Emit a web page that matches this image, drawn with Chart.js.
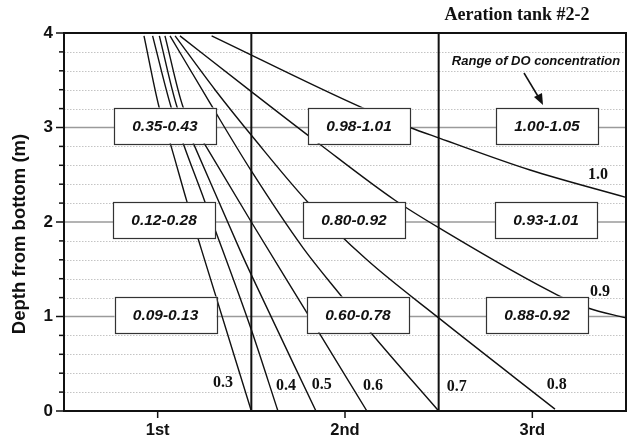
<!DOCTYPE html>
<html><head><meta charset="utf-8">
<script src="https://cdn.jsdelivr.net/npm/chart.js@4/dist/chart.umd.min.js"></script>
<style>html,body{margin:0;padding:0;background:#fff}#wrap{width:632px;height:443px;position:relative}</style>
</head><body><div id="wrap"><canvas id="c"></canvas></div>
<script>
// ---------- data ----------
const categories = ['1st', '2nd', '3rd'];
const depthTicks = [0, 1, 2, 3, 4];
const isoLevels = ['0.3', '0.4', '0.5', '0.6', '0.7', '0.8', '0.9', '1.0'];

const x03 = [0.927, 1.007, 1.066, 1.157, 1.235, 1.5];
const y03 = [3.97, 3.22, 2.84, 2.21, 1.70, 0];
const x04 = [0.973, 1.071, 1.253, 1.5, 1.642];
const y04 = [3.97, 3.22, 2.21, 0.86, 0];
const x05 = [1.009, 1.103, 1.189, 1.44, 1.5, 1.845];
const y05 = [3.97, 3.22, 2.84, 1.70, 1.44, 0];
const x06 = [1.039, 1.135, 1.247, 1.5, 1.797, 2.117];
const y06 = [3.97, 3.22, 2.838, 2.0, 1.038, 0];
const x07 = [1.066, 1.279, 1.5, 1.776, 1.984, 2.144, 2.5];
const y07 = [3.97, 3.26, 2.54, 1.726, 1.207, 0.815, 0];
const x08 = [1.093, 1.306, 1.52, 1.802, 2.117, 2.5, 3.121];
const y08 = [3.97, 3.40, 2.87, 2.21, 1.60, 0.985, 0.02];
const x09 = [1.119, 1.5, 1.867, 2.267, 2.5, 3.132, 3.297, 3.5];
const y09 = [3.97, 3.38, 2.82, 2.23, 1.94, 1.23, 1.09, 0.985];
const x10 = [1.288, 2.091, 2.347, 2.5, 2.988, 3.5];
const y10 = [3.97, 3.21, 3.0, 2.89, 2.55, 2.26];

const rangeDepths = [1, 2, 3];
const range1st = ['0.09-0.13', '0.12-0.28', '0.35-0.43'];
const range2nd = ['0.60-0.78', '0.80-0.92', '0.98-1.01'];
const range3rd = ['0.88-0.92', '0.93-1.01', '1.00-1.05'];

const chartTitle = 'Aeration tank #2-2';
const noteText = 'Range of DO concentration';
const yTitle = 'Depth from bottom (m)';

// ---------- layout (positions of annotations, not data) ----------
const boxCenterX = [[1.042, 1.034, 1.039], [2.069, 2.048, 2.075], [3.025, 3.073, 3.078]];
const isoLabelPos = [[1.349, 0.296], [1.685, 0.265], [1.876, 0.275], [2.149, 0.265],
                     [2.596, 0.257], [3.13, 0.275], [3.361, 1.263], [3.351, 2.499]];

const xs = [x03, x04, x05, x06, x07, x08, x09, x10];
const ys = [y03, y04, y05, y06, y07, y08, y09, y10];
const datasets = isoLevels.map((lv, i) => ({
  label: lv,
  data: xs[i].map((x, j) => ({ x: x, y: ys[i][j] })),
  showLine: true,
  borderColor: '#111',
  borderWidth: 1.4,
  pointRadius: 0,
  cubicInterpolationMode: 'monotone',
  fill: false
}));

const overlay = {
  id: 'overlay',
  beforeDatasetsDraw(chart) {
    const { ctx, chartArea: a, scales: { x, y } } = chart;
    ctx.save();
    ctx.strokeStyle = '#c4c4c4';
    ctx.lineWidth = 1;
    ctx.setLineDash([1.5, 1.5]);
    for (let k = 1; k < 20; k++) {
      if (k % 5 === 0) continue;
      const py = Math.round(y.getPixelForValue(k * 0.2)) + 0.5;
      ctx.beginPath(); ctx.moveTo(a.left, py); ctx.lineTo(a.right, py); ctx.stroke();
    }
    ctx.setLineDash([]);
    ctx.strokeStyle = '#9a9a9a';
    ctx.lineWidth = 1.5;
    rangeDepths.forEach(d => {
      const py = y.getPixelForValue(d);
      ctx.beginPath(); ctx.moveTo(a.left, py); ctx.lineTo(a.right, py); ctx.stroke();
    });
    ctx.restore();
  },
  afterDatasetsDraw(chart) {
    const { ctx, chartArea: a, scales: { x, y } } = chart;
    ctx.save();
    ctx.strokeStyle = '#111';
    ctx.lineWidth = 2;
    [1.5, 2.5].forEach(v => {
      const px = x.getPixelForValue(v);
      ctx.beginPath(); ctx.moveTo(px, a.top); ctx.lineTo(px, a.bottom); ctx.stroke();
    });
    const cols = [range1st, range2nd, range3rd];
    ctx.font = 'italic bold 15.5px "Liberation Sans", Arial, sans-serif';
    ctx.textAlign = 'center';
    ctx.textBaseline = 'middle';
    cols.forEach((col, ci) => {
      col.forEach((txt, ri) => {
        const cx = x.getPixelForValue(boxCenterX[ci][ri]);
        const cy = y.getPixelForValue(rangeDepths[ri]) - 2;
        const w = 102, h = 36;
        ctx.fillStyle = '#fff';
        ctx.fillRect(cx - w / 2, cy - h / 2, w, h);
        ctx.strokeStyle = '#333';
        ctx.lineWidth = 1.2;
        ctx.strokeRect(Math.round(cx - w / 2) + 0.5, Math.round(cy - h / 2) + 0.5, w, h);
        ctx.fillStyle = '#111';
        ctx.fillText(txt, cx, cy + 1);
      });
    });
    ctx.font = 'bold 16px "Liberation Serif", "Times New Roman", serif';
    isoLevels.forEach((lv, i) => {
      ctx.fillText(lv, x.getPixelForValue(isoLabelPos[i][0]), y.getPixelForValue(isoLabelPos[i][1]));
    });
    ctx.strokeStyle = '#111';
    ctx.lineWidth = 2;
    ctx.strokeRect(a.left, a.top, a.right - a.left, a.bottom - a.top);
    ctx.lineWidth = 1.5;
    for (let k = 0; k <= 20; k++) {
      const py = y.getPixelForValue(k * 0.2);
      const len = k % 5 === 0 ? 8 : 5;
      ctx.beginPath(); ctx.moveTo(a.left - len, py); ctx.lineTo(a.left, py); ctx.stroke();
    }
    categories.forEach((c, i) => {
      const px = x.getPixelForValue(i + 1);
      ctx.beginPath(); ctx.moveTo(px, a.bottom); ctx.lineTo(px, a.bottom + 7); ctx.stroke();
    });
    ctx.fillStyle = '#111';
    ctx.font = 'bold 18px "Liberation Serif", "Times New Roman", serif';
    ctx.fillText(chartTitle, 517, 15);
    ctx.font = 'italic bold 13px "Liberation Sans", Arial, sans-serif';
    ctx.fillText(noteText, 536, 61);
    ctx.lineWidth = 1.5;
    ctx.beginPath(); ctx.moveTo(524, 73); ctx.lineTo(539, 98); ctx.stroke();
    ctx.beginPath();
    ctx.moveTo(543, 105); ctx.lineTo(534, 97); ctx.lineTo(542, 93); ctx.closePath(); ctx.fill();
    // y axis title
    ctx.save();
    ctx.translate(20, 234);
    ctx.rotate(-Math.PI / 2);
    ctx.font = 'bold 18.5px "Liberation Sans", Arial, sans-serif';
    ctx.fillText(yTitle, 0, 0);
    ctx.restore();
    ctx.restore();
  }
};

new Chart(document.getElementById('c'), {
  type: 'scatter',
  data: { datasets },
  options: {
    responsive: true,
    maintainAspectRatio: false,
    animation: false,
    layout: { padding: { top: 33, right: 6, left: 0, bottom: 0 } },
    plugins: { legend: { display: false }, tooltip: { enabled: false } },
    scales: {
      x: {
        type: 'linear', min: 0.5, max: 3.5,
        afterBuildTicks: s => { s.ticks = categories.map((c, i) => ({ value: i + 1 })); },
        afterFit: s => { s.height = 32; },
        grid: { display: false, drawTicks: false },
        border: { display: false },
        ticks: {
          callback: v => categories[Math.round(v) - 1] || '',
          font: { family: '"Liberation Sans", Arial, sans-serif', weight: 'bold', size: 16.5 },
          color: '#111', padding: 10, maxRotation: 0
        }
      },
      y: {
        type: 'linear', min: 0, max: 4,
        afterBuildTicks: s => { s.ticks = depthTicks.map(v => ({ value: v })); },
        afterFit: s => { s.width = 64; },
        grid: { display: false, drawTicks: false },
        border: { display: false },
        ticks: {
          font: { family: '"Liberation Sans", Arial, sans-serif', weight: 'bold', size: 17 },
          color: '#111', padding: 11
        }
      }
    }
  },
  plugins: [overlay]
});
</script>
</body></html>
